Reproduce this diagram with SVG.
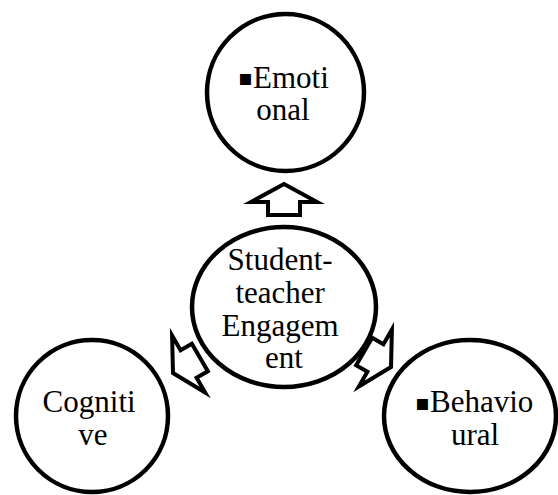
<svg xmlns="http://www.w3.org/2000/svg" width="558" height="495" viewBox="0 0 558 495">
  <style>
    .node { fill: #ffffff; stroke: #000000; stroke-width: 4.5; }
    .lbl { font-family: "Liberation Serif", "Times New Roman", serif; font-size: 31px; fill: #000000; }
    .mid { text-anchor: middle; }
    .bul { font-family: "DejaVu Sans", sans-serif; font-size: 22px; }
    .arrow { fill: #ffffff; stroke: #000000; stroke-width: 4; stroke-linejoin: miter; stroke-miterlimit: 10; }
  </style>
  <defs>
    <!-- block arrow pointing up, tip at the origin -->
    <path id="blockArrow" d="M0,0 L33,18 L16,18 L16,31 L-16,31 L-16,18 L-33,18 Z"/>
  </defs>

  <rect width="558" height="495" fill="#ffffff"/>

  <g id="connectors">
    <use href="#blockArrow" class="arrow" transform="translate(284,184)"/>
    <use href="#blockArrow" class="arrow" transform="translate(173,373) rotate(-120)"/>
    <use href="#blockArrow" class="arrow" transform="translate(391,367) rotate(120)"/>
  </g>

  <g id="emotional">
    <ellipse class="node" cx="285.5" cy="92.5" rx="78.5" ry="78.5"/>
    <text class="lbl"><tspan class="bul" x="238" y="85">▪</tspan><tspan x="253" y="88">Emoti</tspan></text>
    <text class="lbl mid" x="283" y="120">onal</text>
  </g>

  <g id="engagement">
    <ellipse class="node" cx="284" cy="307" rx="92" ry="80"/>
    <text class="lbl mid" x="284">
      <tspan x="284" y="270">Student-</tspan>
      <tspan x="284" y="303">teacher</tspan>
      <tspan x="284" y="336">Engagem</tspan>
      <tspan x="284" y="368">ent</tspan>
    </text>
  </g>

  <g id="cognitive">
    <ellipse class="node" cx="92" cy="416" rx="76" ry="76"/>
    <text class="lbl mid">
      <tspan x="93" y="412">Cogniti</tspan>
      <tspan x="93" y="445">ve</tspan>
    </text>
  </g>

  <g id="behavioural">
    <ellipse class="node" cx="470" cy="416" rx="86" ry="76"/>
    <text class="lbl"><tspan class="bul" x="415" y="410">▪</tspan><tspan x="430" y="412">Behavio</tspan></text>
    <text class="lbl mid" x="475" y="445">ural</text>
  </g>
</svg>
